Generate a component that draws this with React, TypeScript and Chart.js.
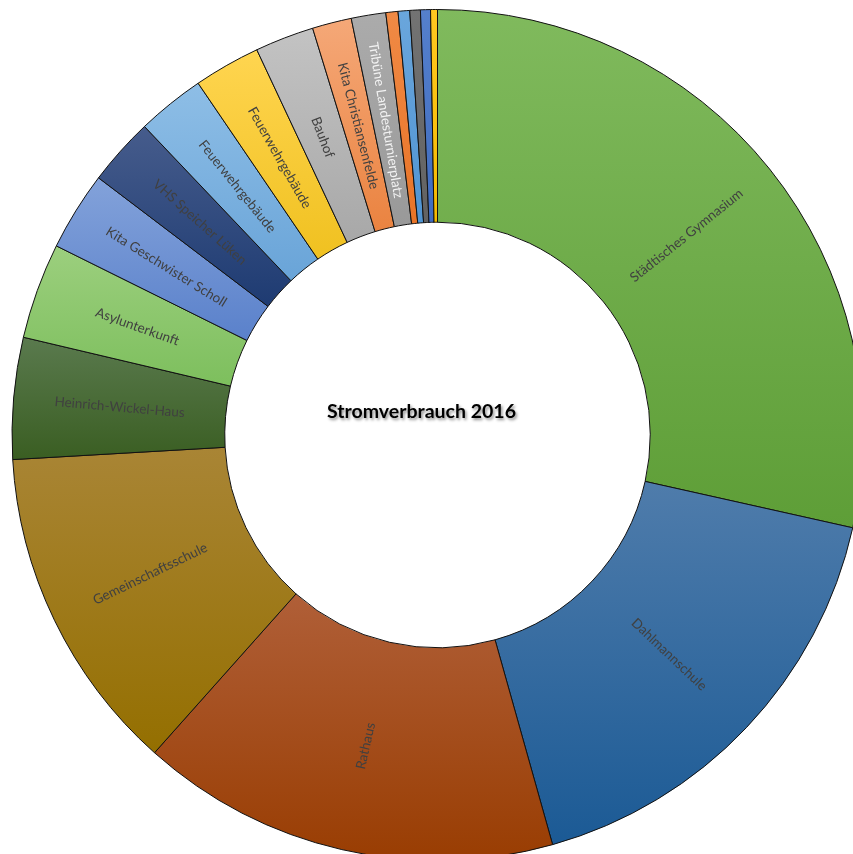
import React, { useEffect, useRef } from "react";
import { Chart, registerables } from "chart.js";

Chart.register(...registerables);

const TITLE = "Stromverbrauch 2016";

const categories = [
  "Städtisches Gymnasium",
  "Dahlmannschule",
  "Rathaus",
  "Gemeinschaftsschule",
  "Heinrich-Wickel-Haus",
  "Asylunterkunft",
  "Kita Geschwister Scholl",
  "VHS Speicher Lüken",
  "Feuerwehrgebäude",
  "Feuerwehrgebäude",
  "Bauhof",
  "Kita Christiansenfelde",
  "Tribüne Landesturnierplatz",
  "Sonstige 1",
  "Sonstige 2",
  "Sonstige 3",
  "Sonstige 4",
  "Sonstige 5",
];

// share of total consumption (%)
const shares = [
  28.5, 17.14, 15.94, 12.5, 4.61, 3.64, 3.0, 2.58, 2.58, 2.53, 2.24, 1.49, 1.31,
  0.46, 0.44, 0.4, 0.38, 0.26,
];

const topColors = [
  "#80BA5D", "#4F7CAB", "#B05F38", "#A98535", "#5A7A4E", "#9CCF7E", "#83A2DA",
  "#465C8C", "#8EBEE6", "#FFD550", "#C3C3C3", "#F5A878", "#ABABAB",
  "#F08A45", "#6AA6DC", "#737373", "#5580CC", "#FFC821",
];
const bottomColors = [
  "#5E9E37", "#1B5A95", "#993D02", "#946F00", "#3A5E22", "#7DBF5D", "#5A81CB",
  "#1E3B72", "#69A4D8", "#F0C120", "#A8A8A8", "#EA8340", "#999999",
  "#E87428", "#5094D2", "#626262", "#3F6CC0", "#F5BA00",
];
const labelColors = [
  "#404040", "#404040", "#404040", "#404040", "#404040", "#404040", "#404040",
  "#404040", "#404040", "#404040", "#404040", "#404040", "#F2F2F2",
  "#404040", "#404040", "#404040", "#404040", "#404040",
];

const CUTOUT = 0.5;

function sliceGradient(ctx: any) {
  const chart = ctx.chart;
  const area = chart.chartArea;
  const i = ctx.dataIndex;
  if (!area || i == null) return bottomColors[i ?? 0];
  const data = ctx.dataset.data as number[];
  const total = data.reduce((a, b) => a + b, 0);
  let before = 0;
  for (let k = 0; k < i; k++) before += data[k];
  const a0 = -Math.PI / 2 + (before / total) * 2 * Math.PI;
  const a1 = a0 + (data[i] / total) * 2 * Math.PI;
  const cy = (area.top + area.bottom) / 2;
  const ro = (Math.min(area.right - area.left, area.bottom - area.top) - 1) / 2;
  const ri = ro * CUTOUT;
  let sMin = Math.min(Math.sin(a0), Math.sin(a1));
  let sMax = Math.max(Math.sin(a0), Math.sin(a1));
  for (let k = -3; k <= 4; k++) {
    const c = Math.PI / 2 + k * Math.PI;
    if (c > a0 && c < a1) {
      const s = Math.sin(c);
      sMin = Math.min(sMin, s);
      sMax = Math.max(sMax, s);
    }
  }
  const yTop = cy + Math.min(ri * sMin, ro * sMin);
  const yBot = cy + Math.max(ri * sMax, ro * sMax);
  const g = chart.ctx.createLinearGradient(0, yTop, 0, Math.max(yBot, yTop + 1));
  g.addColorStop(0, topColors[i]);
  g.addColorStop(1, bottomColors[i]);
  return g;
}

const sliceLabels = {
  id: "sliceLabels",
  afterDatasetsDraw(chart: any) {
    const meta = chart.getDatasetMeta(0);
    const c = chart.ctx;
    c.save();
    c.font = "13.5px Lato";
    c.textAlign = "center";
    c.textBaseline = "middle";
    meta.data.forEach((arc: any, i: number) => {
      const p = arc.getProps(
        ["x", "y", "startAngle", "endAngle", "innerRadius", "outerRadius"],
        true
      );
      const span = p.endAngle - p.startAngle;
      if (span < (3 * Math.PI) / 180) return;
      const mid = (p.startAngle + p.endAngle) / 2;
      const r = (p.innerRadius + p.outerRadius) / 2;
      const px = p.x + r * Math.cos(mid);
      const py = p.y + r * Math.sin(mid);
      let theta = mid + Math.PI / 2;
      theta = ((theta % (2 * Math.PI)) + 2 * Math.PI) % (2 * Math.PI);
      const rot = theta < Math.PI ? mid : mid + Math.PI;
      c.save();
      c.translate(px, py);
      c.rotate(rot);
      c.fillStyle = labelColors[i];
      c.fillText(chart.data.labels[i], 0, 0);
      c.restore();
    });
    c.restore();
  },
};

const centerTitle = {
  id: "centerTitle",
  afterDatasetsDraw(chart: any) {
    const meta = chart.getDatasetMeta(0);
    const arc = meta.data[0];
    if (!arc) return;
    const c = chart.ctx;
    c.save();
    c.font = "bold 19.5px Lato";
    c.textAlign = "center";
    c.textBaseline = "alphabetic";
    c.shadowColor = "rgba(0,0,0,0.45)";
    c.shadowBlur = 3;
    c.shadowOffsetX = 1.5;
    c.shadowOffsetY = 1.5;
    c.fillStyle = "#000000";
    c.fillText(TITLE, arc.x - 16, arc.y - 17);
    c.restore();
  },
};

export default function App() {
  const ref = useRef<HTMLCanvasElement>(null);
  useEffect(() => {
    const chart = new Chart(ref.current as HTMLCanvasElement, {
      type: "doughnut",
      data: {
        labels: categories,
        datasets: [
          {
            data: shares,
            backgroundColor: sliceGradient as any,
            borderColor: "#111111",
            borderWidth: 1,
          },
        ],
      },
      options: {
        responsive: false,
        devicePixelRatio: 1,
        animation: false,
        cutout: "50%",
        layout: { padding: 9 },
        plugins: {
          legend: { display: false },
          tooltip: { enabled: false },
        },
      },
      plugins: [sliceLabels, centerTitle],
    });
    return () => chart.destroy();
  }, []);
  return (
    <div
      style={{
        position: "fixed",
        left: 0,
        top: 0,
        width: 853,
        height: 854,
        overflow: "hidden",
        background: "#ffffff",
      }}
    >
      <canvas
        ref={ref}
        width={875}
        height={870}
        style={{ display: "block", width: 875, height: 870 }}
      />
    </div>
  );
}
